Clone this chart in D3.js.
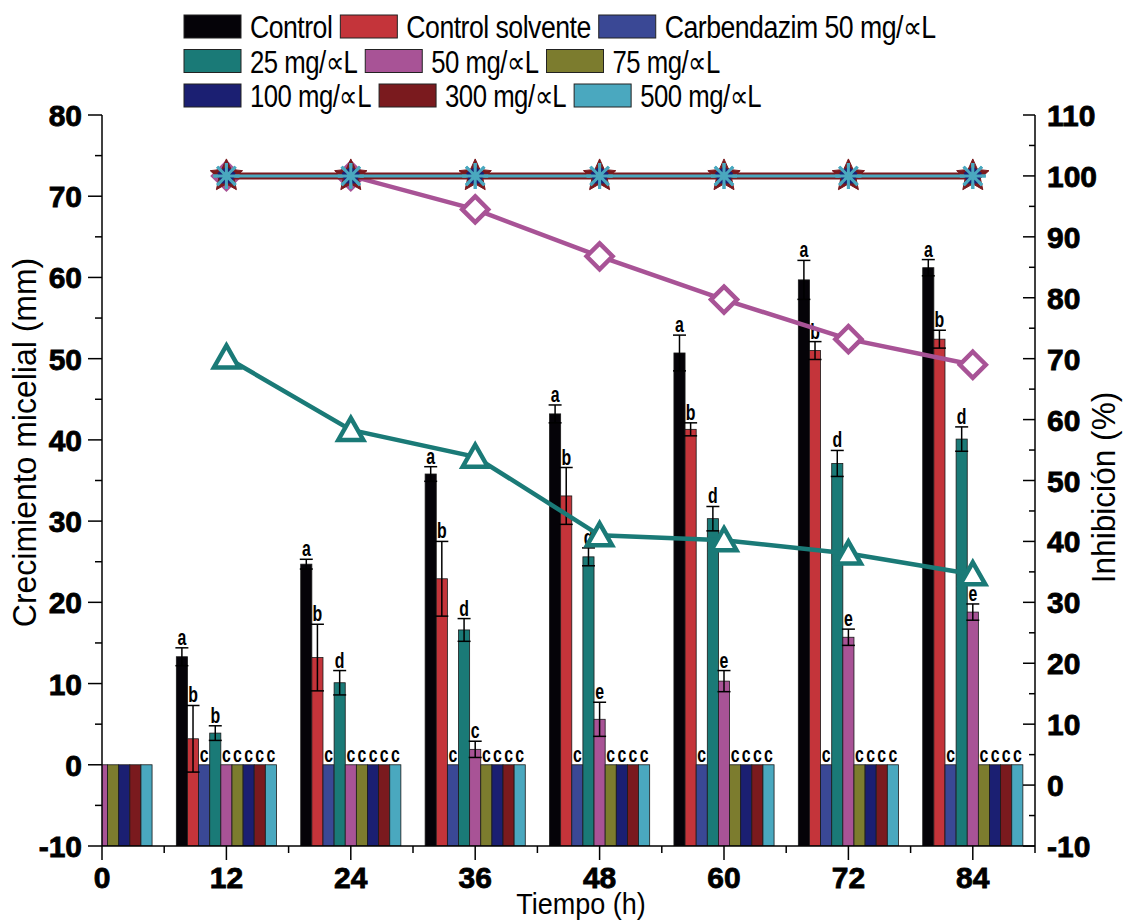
<!DOCTYPE html>
<html>
<head>
<meta charset="utf-8">
<script src="https://cdn.jsdelivr.net/npm/d3@7"></script>
<style>
  body { margin: 0; background: #fff; }
</style>
</head>
<body>
<div class="chart"></div>
<script>
/* global d3 */
'use strict'

// tiempo de muestreo (h)
const tiempos = [0, 12, 24, 36, 48, 60, 72, 84]
const tratamientos = ['Control', 'Control solvente', 'Carbendazim 50 mg/\u221DL', '25 mg/\u221DL', '50 mg/\u221DL',
  '75 mg/\u221DL', '100 mg/\u221DL', '300 mg/\u221DL', '500 mg/\u221DL']
const colores = ['#050308', '#c4343a', '#3a4895', '#1a7a77', '#a85396', '#7c7c2e', '#1b1f72', '#7a1a1e', '#4aa8bf']

// crecimiento micelial (mm) y error
const control = [0, 13.3, 24.7, 35.8, 43.2, 50.7, 59.7, 61.2]
const controlErr = [0, 1.1, 0.6, 0.9, 1.1, 2.2, 2.4, 1.0]
const solvente = [0, 3.2, 13.2, 22.9, 33.1, 41.3, 51.0, 52.4]
const solventeErr = [0, 4.1, 4.1, 4.6, 3.5, 0.8, 1.1, 1.1]
const carbendazim = [0, 0, 0, 0, 0, 0, 0, 0]
const conc25 = [0, 3.9, 10.1, 16.6, 25.6, 30.3, 37.1, 40.1]
const conc25Err = [0, 0.9, 1.5, 1.4, 1.1, 1.5, 1.6, 1.5]
const conc50 = [0, 0, 0, 1.9, 5.6, 10.3, 15.7, 18.8]
const conc50Err = [0, 0, 0, 1.0, 2.1, 1.3, 1.0, 1.0]
const conc75 = [0, 0, 0, 0, 0, 0, 0, 0]
const conc100 = [0, 0, 0, 0, 0, 0, 0, 0]
const conc300 = [0, 0, 0, 0, 0, 0, 0, 0]
const conc500 = [0, 0, 0, 0, 0, 0, 0, 0]

// letras de significancia
const letrasControl = ['', 'a', 'a', 'a', 'a', 'a', 'a', 'a']
const letrasSolvente = ['', 'b', 'b', 'b', 'b', 'b', 'b', 'b']
const letrasCarbendazim = ['', 'c', 'c', 'c', 'c', 'c', 'c', 'c']
const letras25 = ['', 'b', 'd', 'd', 'd', 'd', 'd', 'd']
const letras50 = ['', 'c', 'c', 'c', 'e', 'e', 'e', 'e']
const letrasC = ['', 'c', 'c', 'c', 'c', 'c', 'c', 'c']

// inhibicion (%)
const tiemposInhib = [12, 24, 36, 48, 60, 72, 84]
const inhibCarbendazim = [100, 100, 100, 100, 100, 100, 100]
const inhib25 = [70.2, 58.3, 53.9, 41.0, 40.2, 38.0, 34.6]
const inhib50 = [100, 100, 94.5, 86.8, 79.7, 73.2, 69.0]
const inhib75 = [100, 100, 100, 100, 100, 100, 100]
const inhib100 = [100, 100, 100, 100, 100, 100, 100]
const inhib300 = [100, 100, 100, 100, 100, 100, 100]
const inhib500 = [100, 100, 100, 100, 100, 100, 100]

const series = [
  { v: control, e: controlErr, l: letrasControl },
  { v: solvente, e: solventeErr, l: letrasSolvente },
  { v: carbendazim, e: null, l: letrasCarbendazim },
  { v: conc25, e: conc25Err, l: letras25 },
  { v: conc50, e: conc50Err, l: letras50 },
  { v: conc75, e: null, l: letrasC },
  { v: conc100, e: null, l: letrasC },
  { v: conc300, e: null, l: letrasC },
  { v: conc500, e: null, l: letrasC }
]

const width = 1124
const height = 920
const plotLeft = 102
const plotRight = 1035
const plotTop = 115
const plotBottom = 846

const x = d3.scaleLinear().domain([0, 90]).range([plotLeft, plotRight])
const yL = d3.scaleLinear().domain([-10, 80]).range([plotBottom, plotTop])
const yR = d3.scaleLinear().domain([-10, 110]).range([plotBottom, plotTop])
const offset = d3.scaleBand().domain(d3.range(9)).range([-(x(4.83) - x(0)), x(4.83) - x(0)])
const barW = offset.bandwidth()

const svg = d3.select('.chart').append('svg')
  .attr('width', width)
  .attr('height', height)
  .style('font-family', 'Liberation Sans, Arial, sans-serif')

// texto angosto: comprime el ancho natural
const condensar = function (sel, f) {
  sel.each(function () {
    const n = this.getComputedTextLength()
    if (n > 0) {
      d3.select(this).attr('textLength', n * f).attr('lengthAdjust', 'spacingAndGlyphs')
    }
  })
}

svg.append('defs').append('clipPath').attr('id', 'plot')
  .append('rect')
  .attr('x', plotLeft).attr('y', 0)
  .attr('width', plotRight - plotLeft).attr('height', plotBottom)

// barras
const barras = svg.append('g').attr('clip-path', 'url(#plot)')
series.forEach(function (s, k) {
  barras.append('g').selectAll('rect')
    .data(tiempos)
    .enter().append('rect')
    .attr('x', function (t) { return x(t) + offset(k) })
    .attr('y', function (t, i) { return yL(s.v[i]) })
    .attr('width', barW)
    .attr('height', function (t, i) { return yL(-10) - yL(s.v[i]) })
    .attr('fill', colores[k])
    .attr('stroke', '#1a1a1a')
    .attr('stroke-width', 0.8)
})

// barras de error y letras
const anot = svg.append('g')
series.forEach(function (s, k) {
  tiempos.forEach(function (t, i) {
    if (t === 0) return
    const cx = x(t) + offset(k) + barW / 2
    let topY = yL(s.v[i])
    if (s.e && s.e[i] > 0) {
      const y1 = yL(s.v[i] + s.e[i])
      const y2 = yL(s.v[i] - s.e[i])
      const g = anot.append('g').attr('stroke', '#000').attr('stroke-width', 1.5)
      g.append('line').attr('x1', cx).attr('x2', cx).attr('y1', y1).attr('y2', y2)
      g.append('line').attr('x1', cx - 6.5).attr('x2', cx + 6.5).attr('y1', y1).attr('y2', y1)
      g.append('line').attr('x1', cx - 6.5).attr('x2', cx + 6.5).attr('y1', y2).attr('y2', y2)
      topY = y1
    }
    anot.append('text')
      .attr('x', cx)
      .attr('y', topY - 3)
      .attr('text-anchor', 'middle')
      .style('font-weight', 'bold')
      .style('font-size', '22px')
      .text(s.l[i])
      .call(condensar, 0.72)
  })
})

// lineas de inhibicion
const linea = d3.line()
  .x(function (d) { return x(d[0]) })
  .y(function (d) { return yR(d[1]) })
const pares = function (vals) {
  return tiemposInhib.map(function (t, i) { return [t, vals[i]] })
}

const lineas = svg.append('g')
lineas.append('path').datum(pares(inhib25)).attr('d', linea)
  .attr('fill', 'none').attr('stroke', colores[3]).attr('stroke-width', 4.5)
lineas.append('g').selectAll('path').data(pares(inhib25)).enter().append('path')
  .attr('transform', function (d) { return 'translate(' + x(d[0]) + ',' + yR(d[1]) + ')' })
  .attr('d', 'M0,-12L12.5,10L-12.5,10Z')
  .attr('fill', '#fff').attr('stroke', colores[3]).attr('stroke-width', 4.5).attr('stroke-linejoin', 'miter')

lineas.append('path').datum(pares(inhib50)).attr('d', linea)
  .attr('fill', 'none').attr('stroke', colores[4]).attr('stroke-width', 4.5)
lineas.append('g').selectAll('path').data(pares(inhib50)).enter().append('path')
  .attr('transform', function (d) { return 'translate(' + x(d[0]) + ',' + yR(d[1]) + ')' })
  .attr('d', 'M0,-13L13,0L0,13L-13,0Z')
  .attr('fill', '#fff').attr('stroke', colores[4]).attr('stroke-width', 4.5)

const estrella = function (r1, r2) {
  const pts = []
  for (let i = 0; i < 10; i++) {
    const a = -Math.PI / 2 + i * Math.PI / 5
    const r = i % 2 === 0 ? r1 : r2
    pts.push([r * Math.cos(a), r * Math.sin(a)])
  }
  return 'M' + pts.join('L') + 'Z'
}
const pentagono = function (r) {
  const pts = []
  for (let i = 0; i < 5; i++) {
    const a = -Math.PI / 2 + i * 2 * Math.PI / 5
    pts.push([r * Math.cos(a), r * Math.sin(a)])
  }
  return 'M' + pts.join('L') + 'Z'
}
const asterisco = function (r) {
  let d = ''
  for (let i = 0; i < 4; i++) {
    const a = i * Math.PI / 4
    d += 'M' + (r * Math.cos(a)) + ',' + (r * Math.sin(a)) + 'L' + (-r * Math.cos(a)) + ',' + (-r * Math.sin(a))
  }
  return d
}

const planas = [
  { vals: inhibCarbendazim, color: colores[2], w: 4, marca: pentagono(9), rellena: true },
  { vals: inhib75, color: colores[5], w: 4, marca: pentagono(9), rellena: true },
  { vals: inhib100, color: colores[6], w: 5, marca: pentagono(10), rellena: true },
  { vals: inhib300, color: colores[7], w: 7, marca: estrella(17, 8), rellena: true },
  { vals: inhib500, color: colores[8], w: 3, marca: asterisco(13), rellena: false }
]
planas.forEach(function (p) {
  lineas.append('path').datum(pares(p.vals)).attr('d', linea)
    .attr('fill', 'none').attr('stroke', p.color).attr('stroke-width', p.w)
})
planas.forEach(function (p) {
  lineas.append('g').selectAll('path').data(pares(p.vals)).enter().append('path')
    .attr('transform', function (d) { return 'translate(' + x(d[0]) + ',' + yR(d[1]) + ')' })
    .attr('d', p.marca)
    .attr('fill', p.rellena ? p.color : 'none')
    .attr('stroke', p.color)
    .attr('stroke-width', p.rellena ? 1 : 3)
})
// pentagono de 100 mg sobre la estrella
lineas.append('g').selectAll('path').data(pares(inhib100)).enter().append('path')
  .attr('transform', function (d) { return 'translate(' + x(d[0]) + ',' + yR(d[1]) + ')' })
  .attr('d', pentagono(9.5))
  .attr('fill', colores[6])
lineas.append('g').selectAll('path').data(pares(inhib500)).enter().append('path')
  .attr('transform', function (d) { return 'translate(' + x(d[0]) + ',' + yR(d[1]) + ')' })
  .attr('d', asterisco(13))
  .attr('fill', 'none').attr('stroke', colores[8]).attr('stroke-width', 3)

// ejes
const ejes = svg.append('g').attr('stroke', '#000').attr('stroke-width', 1.5)
ejes.append('line').attr('x1', plotLeft).attr('x2', plotLeft).attr('y1', plotTop).attr('y2', plotBottom)
ejes.append('line').attr('x1', plotRight).attr('x2', plotRight).attr('y1', plotTop).attr('y2', plotBottom)
ejes.append('line').attr('x1', plotLeft).attr('x2', plotRight).attr('y1', plotBottom).attr('y2', plotBottom)

const ticksL = d3.range(-10, 81, 5)
ejes.append('g').selectAll('line').data(ticksL).enter().append('line')
  .attr('x1', function (d) { return d % 10 === 0 ? plotLeft - 14 : plotLeft - 7 })
  .attr('x2', plotLeft)
  .attr('y1', function (d) { return yL(d) })
  .attr('y2', function (d) { return yL(d) })

const ticksR = d3.range(-10, 111, 5)
ejes.append('g').selectAll('line').data(ticksR).enter().append('line')
  .attr('x1', function (d) { return d % 10 === 0 ? plotRight - 12 : plotRight - 6 })
  .attr('x2', plotRight)
  .attr('y1', function (d) { return yR(d) })
  .attr('y2', function (d) { return yR(d) })

const ticksX = d3.range(0, 91, 6)
ejes.append('g').selectAll('line').data(ticksX).enter().append('line')
  .attr('x1', function (d) { return x(d) })
  .attr('x2', function (d) { return x(d) })
  .attr('y1', plotBottom)
  .attr('y2', function (d) { return d % 12 === 0 ? plotBottom + 14 : plotBottom + 7 })

const etiqueta = function (sel) {
  sel.style('font-weight', 'bold')
    .style('font-size', '30px')
    .attr('stroke', '#000')
    .attr('stroke-width', 0.8)
    .attr('fill', '#000')
}

svg.append('g').selectAll('text').data(d3.range(-10, 81, 10)).enter().append('text')
  .attr('x', plotLeft - 20)
  .attr('y', function (d) { return yL(d) + 11 })
  .attr('text-anchor', 'end')
  .call(etiqueta)
  .text(function (d) { return d })

svg.append('g').selectAll('text').data(d3.range(-10, 111, 10)).enter().append('text')
  .attr('x', plotRight + 12)
  .attr('y', function (d) { return yR(d) + 11 })
  .attr('text-anchor', 'start')
  .call(etiqueta)
  .text(function (d) { return d })

svg.append('g').selectAll('text').data(tiempos).enter().append('text')
  .attr('x', function (d) { return x(d) })
  .attr('y', plotBottom + 42)
  .attr('text-anchor', 'middle')
  .call(etiqueta)
  .text(function (d) { return d })

// titulos
const titulo = function (sel, size) {
  sel.style('font-size', size + 'px')
    .attr('text-anchor', 'middle')
    .attr('fill', '#000')
}
svg.append('text')
  .attr('transform', 'translate(36,' + ((plotTop + plotBottom) / 2 - 38) + ') rotate(-90)')
  .call(titulo, 34)
  .text('Crecimiento micelial (mm)')
  .call(condensar, 0.94)
svg.append('text')
  .attr('transform', 'translate(1115,' + ((plotTop + plotBottom) / 2 + 7) + ') rotate(-90)')
  .call(titulo, 34)
  .text('Inhibición (%)')
  .call(condensar, 0.93)
svg.append('text')
  .attr('x', 581)
  .attr('y', 914)
  .call(titulo, 30)
  .text('Tiempo (h)')
  .call(condensar, 0.9)

// leyenda
const filas = [[0, 1, 2], [3, 4, 5], [6, 7, 8]]
const leyenda = svg.append('g')
filas.forEach(function (fila, r) {
  let lx = 184
  const ly = 15 + r * 34.5
  fila.forEach(function (k) {
    leyenda.append('rect')
      .attr('x', lx).attr('y', ly)
      .attr('width', 57).attr('height', 23)
      .attr('fill', colores[k])
      .attr('stroke', '#222').attr('stroke-width', 1)
    const t = leyenda.append('text')
      .attr('x', lx + 66)
      .attr('y', ly + 23)
      .style('font-size', '31px')
      .style('letter-spacing', '-0.6px')
      .text(tratamientos[k])
    const n = t.node().getComputedTextLength() * (r === 0 ? 0.86 : 0.83)
    t.attr('textLength', n).attr('lengthAdjust', 'spacingAndGlyphs')
    lx = lx + 66 + n + 8
  })
})
</script>
</body>
</html>
